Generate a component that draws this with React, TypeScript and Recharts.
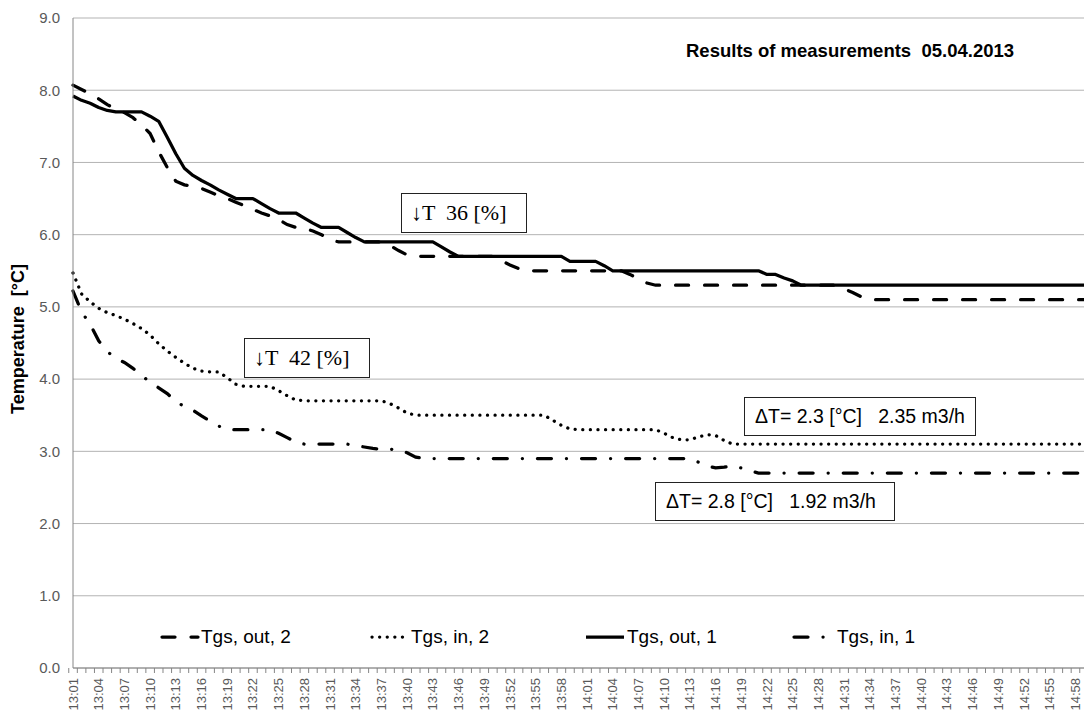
import React from 'react';
import { LineChart, Line, XAxis, YAxis, CartesianGrid } from 'recharts';

// minutes 13:01 .. 14:59
const times = [
  '13:01', '13:02', '13:03', '13:04', '13:05', '13:06', '13:07', '13:08', '13:09', '13:10',
  '13:11', '13:12', '13:13', '13:14', '13:15', '13:16', '13:17', '13:18', '13:19', '13:20',
  '13:21', '13:22', '13:23', '13:24', '13:25', '13:26', '13:27', '13:28', '13:29', '13:30',
  '13:31', '13:32', '13:33', '13:34', '13:35', '13:36', '13:37', '13:38', '13:39', '13:40',
  '13:41', '13:42', '13:43', '13:44', '13:45', '13:46', '13:47', '13:48', '13:49', '13:50',
  '13:51', '13:52', '13:53', '13:54', '13:55', '13:56', '13:57', '13:58', '13:59', '14:00',
  '14:01', '14:02', '14:03', '14:04', '14:05', '14:06', '14:07', '14:08', '14:09', '14:10',
  '14:11', '14:12', '14:13', '14:14', '14:15', '14:16', '14:17', '14:18', '14:19', '14:20',
  '14:21', '14:22', '14:23', '14:24', '14:25', '14:26', '14:27', '14:28', '14:29', '14:30',
  '14:31', '14:32', '14:33', '14:34', '14:35', '14:36', '14:37', '14:38', '14:39', '14:40',
  '14:41', '14:42', '14:43', '14:44', '14:45', '14:46', '14:47', '14:48', '14:49', '14:50',
  '14:51', '14:52', '14:53', '14:54', '14:55', '14:56', '14:57', '14:58', '14:59',
];

// Tgs, out, 2 (dashed)
const tgsOut2 = [
  8.07, 8.01, 7.95, 7.88, 7.80, 7.74, 7.69, 7.62, 7.52, 7.40,
  7.15, 6.93, 6.74, 6.69, 6.67, 6.64, 6.59, 6.54, 6.50, 6.45,
  6.40, 6.35, 6.30, 6.26, 6.21, 6.14, 6.10, 6.09, 6.05, 6.00,
  5.93, 5.90, 5.90, 5.90, 5.90, 5.90, 5.90, 5.85, 5.78, 5.72,
  5.70, 5.70, 5.70, 5.70, 5.70, 5.70, 5.70, 5.70, 5.70, 5.70,
  5.64, 5.58, 5.53, 5.50, 5.50, 5.50, 5.50, 5.50, 5.50, 5.50,
  5.50, 5.50, 5.50, 5.50, 5.50, 5.45, 5.39, 5.33, 5.30, 5.30,
  5.30, 5.30, 5.30, 5.30, 5.30, 5.30, 5.30, 5.30, 5.30, 5.30,
  5.30, 5.30, 5.30, 5.30, 5.30, 5.30, 5.30, 5.30, 5.30, 5.30,
  5.25, 5.20, 5.14, 5.10, 5.10, 5.10, 5.10, 5.10, 5.10, 5.10,
  5.10, 5.10, 5.10, 5.10, 5.10, 5.10, 5.10, 5.10, 5.10, 5.10,
  5.10, 5.10, 5.10, 5.10, 5.10, 5.10, 5.10, 5.10, 5.10,
];

// Tgs, in, 2 (dotted)
const tgsIn2 = [
  5.47, 5.18, 5.07, 4.98, 4.92, 4.88, 4.83, 4.77, 4.70, 4.61,
  4.49, 4.39, 4.30, 4.22, 4.15, 4.11, 4.10, 4.10, 4.02, 3.93,
  3.90, 3.90, 3.90, 3.90, 3.84, 3.77, 3.71, 3.70, 3.70, 3.70,
  3.70, 3.70, 3.70, 3.70, 3.70, 3.70, 3.70, 3.66, 3.60, 3.53,
  3.50, 3.50, 3.50, 3.50, 3.50, 3.50, 3.50, 3.50, 3.50, 3.50,
  3.50, 3.50, 3.50, 3.50, 3.50, 3.50, 3.43, 3.36, 3.31, 3.30,
  3.30, 3.30, 3.30, 3.30, 3.30, 3.30, 3.30, 3.30, 3.30, 3.25,
  3.19, 3.16, 3.16, 3.20, 3.23, 3.22, 3.15, 3.10, 3.10, 3.10,
  3.10, 3.10, 3.10, 3.10, 3.10, 3.10, 3.10, 3.10, 3.10, 3.10,
  3.10, 3.10, 3.10, 3.10, 3.10, 3.10, 3.10, 3.10, 3.10, 3.10,
  3.10, 3.10, 3.10, 3.10, 3.10, 3.10, 3.10, 3.10, 3.10, 3.10,
  3.10, 3.10, 3.10, 3.10, 3.10, 3.10, 3.10, 3.10, 3.10,
];

// Tgs, out, 1 (solid)
const tgsOut1 = [
  7.92, 7.86, 7.82, 7.76, 7.72, 7.70, 7.70, 7.70, 7.70, 7.64,
  7.57, 7.35, 7.12, 6.92, 6.82, 6.75, 6.69, 6.62, 6.56, 6.50,
  6.50, 6.50, 6.43, 6.36, 6.30, 6.30, 6.30, 6.23, 6.16, 6.10,
  6.10, 6.10, 6.03, 5.96, 5.90, 5.90, 5.90, 5.90, 5.90, 5.90,
  5.90, 5.90, 5.90, 5.83, 5.76, 5.70, 5.70, 5.70, 5.70, 5.70,
  5.70, 5.70, 5.70, 5.70, 5.70, 5.70, 5.70, 5.70, 5.63, 5.63,
  5.63, 5.63, 5.57, 5.50, 5.50, 5.50, 5.50, 5.50, 5.50, 5.50,
  5.50, 5.50, 5.50, 5.50, 5.50, 5.50, 5.50, 5.50, 5.50, 5.50,
  5.50, 5.45, 5.45, 5.40, 5.36, 5.30, 5.30, 5.30, 5.30, 5.30,
  5.30, 5.30, 5.30, 5.30, 5.30, 5.30, 5.30, 5.30, 5.30, 5.30,
  5.30, 5.30, 5.30, 5.30, 5.30, 5.30, 5.30, 5.30, 5.30, 5.30,
  5.30, 5.30, 5.30, 5.30, 5.30, 5.30, 5.30, 5.30, 5.30,
];

// Tgs, in, 1 (dash-dot)
const tgsIn1 = [
  5.22, 4.93, 4.76, 4.53, 4.38, 4.29, 4.23, 4.15, 4.05, 3.96,
  3.88, 3.80, 3.69, 3.62, 3.57, 3.49, 3.42, 3.35, 3.30, 3.30,
  3.30, 3.30, 3.30, 3.30, 3.25, 3.19, 3.13, 3.10, 3.10, 3.10,
  3.10, 3.10, 3.10, 3.08, 3.06, 3.04, 3.03, 3.03, 3.02, 2.98,
  2.92, 2.90, 2.90, 2.90, 2.90, 2.90, 2.90, 2.90, 2.90, 2.90,
  2.90, 2.90, 2.90, 2.90, 2.90, 2.90, 2.90, 2.90, 2.90, 2.90,
  2.90, 2.90, 2.90, 2.90, 2.90, 2.90, 2.90, 2.90, 2.90, 2.90,
  2.90, 2.90, 2.90, 2.85, 2.80, 2.77, 2.78, 2.80, 2.77, 2.73,
  2.70, 2.70, 2.70, 2.70, 2.70, 2.70, 2.70, 2.70, 2.70, 2.70,
  2.70, 2.70, 2.70, 2.70, 2.70, 2.70, 2.70, 2.70, 2.70, 2.70,
  2.70, 2.70, 2.70, 2.70, 2.70, 2.70, 2.70, 2.70, 2.70, 2.70,
  2.70, 2.70, 2.70, 2.70, 2.70, 2.70, 2.70, 2.70, 2.70,
];

const yTicks = [0, 1, 2, 3, 4, 5, 6, 7, 8, 9];

const seriesNames = ['Tgs, out, 2', 'Tgs, in, 2', 'Tgs, out, 1', 'Tgs, in, 1'];

const data = times.map((t, i) => ({
  time: t,
  out2: tgsOut2[i],
  in2: tgsIn2[i],
  out1: tgsOut1[i],
  in1: tgsIn1[i],
}));

const W = 1084;
const H = 720;
const SANS = '"Liberation Sans", Arial, sans-serif';
const SERIF = '"Liberation Serif", "Times New Roman", serif';
const LW = 3.25;

// dash patterns per series
const DASHED = '13 16';
const DOTTED = '0.1 7.5';
const DASHDOT = '14 15 0.1 15';

const XTick = (props: any) => {
  const { x, y, payload } = props;
  const idx = payload.index ?? props.index ?? 0;
  const half = (W - 73) / times.length / 2;
  return (
    <g>
      <line x1={x - half} x2={x - half} y1={y} y2={y + 5} stroke="#868686" strokeWidth={1} />
      {idx % 3 === 0 && (
        <text
          x={x}
          y={y + 10}
          transform={`rotate(-90, ${x}, ${y + 10})`}
          textAnchor="end"
          dy="0.35em"
          fontSize={13}
          fontFamily={SANS}
          fill="#595959"
        >
          {payload.value}
        </text>
      )}
    </g>
  );
};

const YLabel = (props: any) => {
  const vb = props.viewBox || { x: 0, y: 18, width: 73, height: 650 };
  const cx = 18;
  const cy = vb.y + vb.height / 2 - 4;
  return (
    <text
      x={cx}
      y={cy}
      transform={`rotate(-90, ${cx}, ${cy})`}
      textAnchor="middle"
      dominantBaseline="central"
      fontSize={18}
      fontWeight="bold"
      fontFamily={SANS}
      fill="#000"
      style={{ whiteSpace: 'pre' }}
    >
      {'Temperature  [°C]'}
    </text>
  );
};

const legendItems = [
  { name: seriesNames[0], dash: DASHED, left: 160, sample: 40 },
  { name: seriesNames[1], dash: DOTTED, left: 370, sample: 40 },
  { name: seriesNames[2], dash: undefined, left: 584, sample: 42 },
  { name: seriesNames[3], dash: DASHDOT, left: 792, sample: 44 },
];

const boxStyle: React.CSSProperties = {
  position: 'absolute',
  border: '1.3px solid #222',
  background: '#fff',
  boxSizing: 'border-box',
  display: 'flex',
  alignItems: 'center',
  whiteSpace: 'pre',
  color: '#000',
};

export default function App() {
  return (
    <div style={{ position: 'absolute', left: 0, top: 0, width: W, height: H, background: '#fff' }}>
      <LineChart width={W} height={H} data={data} margin={{ top: 18, right: 0, bottom: 0, left: 0 }}>
        <CartesianGrid horizontal vertical={false} stroke="#b3b3b3" strokeWidth={1} />
        <XAxis
          dataKey="time"
          interval={0}
          height={52}
          tick={<XTick />}
          tickLine={false}
          tickSize={0}
          tickMargin={0}
          axisLine={{ stroke: '#868686' }}
        />
        <YAxis
          width={73}
          domain={[0, 9]}
          ticks={yTicks}
          interval={0}
          tickFormatter={(v: number) => v.toFixed(1)}
          tickLine={false}
          tickSize={0}
          tickMargin={13}
          axisLine={{ stroke: '#868686' }}
          tick={{ fontSize: 15, fill: '#595959', fontFamily: SANS }}
          label={<YLabel />}
        />
        <Line
          type="linear"
          dataKey="out2"
          name={seriesNames[0]}
          stroke="#000"
          strokeWidth={LW}
          strokeDasharray={DASHED}
          strokeLinecap="round"
          dot={false}
          isAnimationActive={false}
        />
        <Line
          type="linear"
          dataKey="in2"
          name={seriesNames[1]}
          stroke="#000"
          strokeWidth={LW}
          strokeDasharray={DOTTED}
          strokeLinecap="round"
          dot={false}
          isAnimationActive={false}
        />
        <Line
          type="linear"
          dataKey="out1"
          name={seriesNames[2]}
          stroke="#000"
          strokeWidth={LW}
          strokeLinejoin="round"
          dot={false}
          isAnimationActive={false}
        />
        <Line
          type="linear"
          dataKey="in1"
          name={seriesNames[3]}
          stroke="#000"
          strokeWidth={LW}
          strokeDasharray={DASHDOT}
          strokeLinecap="round"
          dot={false}
          isAnimationActive={false}
        />
      </LineChart>

      {/* title */}
      <div
        style={{
          position: 'absolute',
          left: 686,
          top: 40,
          fontFamily: SANS,
          fontWeight: 'bold',
          fontSize: 18.5,
          whiteSpace: 'pre',
          color: '#000',
        }}
      >
        Results of measurements  05.04.2013
      </div>

      {/* legend */}
      {legendItems.map((it) => (
        <div
          key={it.name}
          style={{ position: 'absolute', left: it.left, top: 626, display: 'flex', alignItems: 'center', height: 22 }}
        >
          <svg width={it.sample} height={10} style={{ display: 'block' }}>
            <line
              x1={2}
              x2={it.sample - 2}
              y1={5}
              y2={5}
              stroke="#000"
              strokeWidth={LW}
              strokeDasharray={it.dash}
              strokeLinecap={it.dash ? 'round' : 'butt'}
            />
          </svg>
          <span style={{ fontFamily: SANS, fontSize: 19, color: '#000', marginLeft: 1, whiteSpace: 'pre' }}>
            {it.name}
          </span>
        </div>
      ))}

      {/* annotations */}
      <div style={{ ...boxStyle, left: 401, top: 193, width: 126, height: 40, paddingLeft: 9, fontFamily: SERIF, fontSize: 22 }}>
        {'↓T  36 [%]'}
      </div>
      <div style={{ ...boxStyle, left: 244, top: 338, width: 126, height: 40, paddingLeft: 9, fontFamily: SERIF, fontSize: 22 }}>
        {'↓T  42 [%]'}
      </div>
      <div style={{ ...boxStyle, left: 744, top: 397, width: 232, height: 39, paddingLeft: 10, fontFamily: SANS, fontSize: 19.5 }}>
        {'ΔT= 2.3 [°C]   2.35 m3/h'}
      </div>
      <div style={{ ...boxStyle, left: 655, top: 482, width: 240, height: 39, paddingLeft: 10, fontFamily: SANS, fontSize: 19.5 }}>
        {'ΔT= 2.8 [°C]   1.92 m3/h'}
      </div>
    </div>
  );
}
